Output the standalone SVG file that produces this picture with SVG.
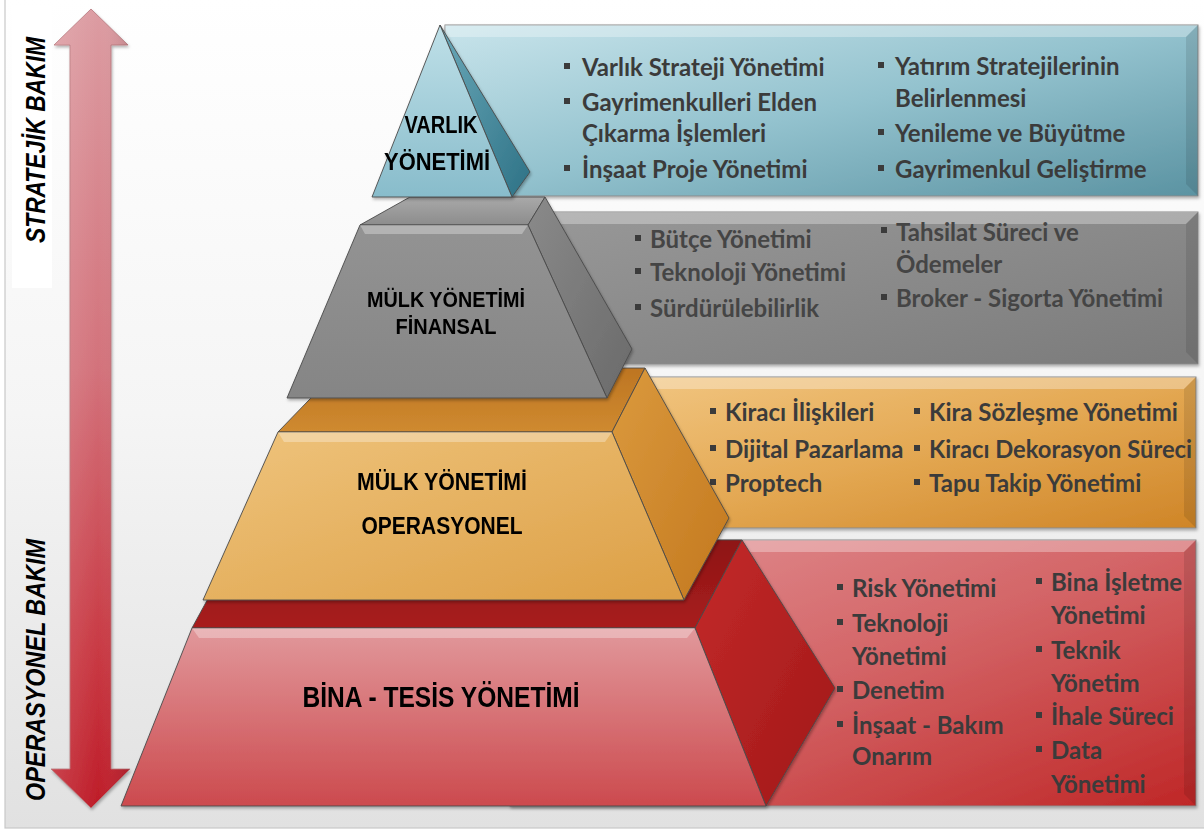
<svg xmlns="http://www.w3.org/2000/svg" width="1204" height="830" viewBox="0 0 1204 830">
<defs>
  <linearGradient id="bg" x1="0" y1="0" x2="0" y2="1">
    <stop offset="0" stop-color="#ffffff"/><stop offset="0.5" stop-color="#f5f5f5"/><stop offset="1" stop-color="#e1e1e1"/>
  </linearGradient>
  <linearGradient id="arrowG" x1="0" y1="0" x2="0" y2="1">
    <stop offset="0" stop-color="#dc9ca2"/><stop offset="0.45" stop-color="#d3727b"/><stop offset="0.8" stop-color="#c93a44"/><stop offset="1" stop-color="#be1c28"/>
  </linearGradient>
  <linearGradient id="arrowSh" x1="0" y1="0" x2="1" y2="0">
    <stop offset="0" stop-color="#ffffff" stop-opacity="0.15"/><stop offset="0.6" stop-color="#ffffff" stop-opacity="0"/><stop offset="1" stop-color="#000000" stop-opacity="0.12"/>
  </linearGradient>
  <linearGradient id="bluePanel" x1="0" y1="0" x2="1" y2="1">
    <stop offset="0" stop-color="#c8e4eb"/><stop offset="0.5" stop-color="#93c2ce"/><stop offset="1" stop-color="#5b93a2"/>
  </linearGradient>
  <linearGradient id="blueFront" x1="0" y1="0" x2="0" y2="1">
    <stop offset="0" stop-color="#bfe0e8"/><stop offset="1" stop-color="#88bccb"/>
  </linearGradient>
  <linearGradient id="blueSide" x1="0" y1="0" x2="1" y2="1">
    <stop offset="0" stop-color="#6aa8b8"/><stop offset="1" stop-color="#2e7286"/>
  </linearGradient>
  <linearGradient id="grayPanel" x1="0" y1="0" x2="1" y2="1">
    <stop offset="0" stop-color="#989898"/><stop offset="1" stop-color="#7b7b7b"/>
  </linearGradient>
  <linearGradient id="grayFront" x1="0" y1="0" x2="0" y2="1">
    <stop offset="0" stop-color="#939393"/><stop offset="1" stop-color="#858585"/>
  </linearGradient>
  <linearGradient id="grayTop" x1="0" y1="0" x2="0" y2="1">
    <stop offset="0" stop-color="#a9a9a9"/><stop offset="1" stop-color="#8c8c8c"/>
  </linearGradient>
  <linearGradient id="graySide" x1="0" y1="0" x2="1" y2="1">
    <stop offset="0" stop-color="#8a8a8a"/><stop offset="1" stop-color="#6a6a6a"/>
  </linearGradient>
  <linearGradient id="orangePanel" x1="0" y1="0" x2="1" y2="1">
    <stop offset="0" stop-color="#f2c783"/><stop offset="0.5" stop-color="#e4a954"/><stop offset="1" stop-color="#cf8527"/>
  </linearGradient>
  <linearGradient id="orangeFront" x1="0" y1="0" x2="1" y2="1">
    <stop offset="0" stop-color="#efc47d"/><stop offset="1" stop-color="#dc9f45"/>
  </linearGradient>
  <linearGradient id="orangeTop" x1="0" y1="0" x2="0" y2="1">
    <stop offset="0" stop-color="#bd7522"/><stop offset="1" stop-color="#cf8a30"/>
  </linearGradient>
  <linearGradient id="orangeSide" x1="0" y1="0" x2="1" y2="1">
    <stop offset="0" stop-color="#db9a3e"/><stop offset="1" stop-color="#c3781e"/>
  </linearGradient>
  <linearGradient id="redPanel" x1="0" y1="0" x2="1" y2="1">
    <stop offset="0" stop-color="#e29396"/><stop offset="0.5" stop-color="#d36466"/><stop offset="1" stop-color="#bf2727"/>
  </linearGradient>
  <linearGradient id="redFront" x1="0" y1="0" x2="0" y2="1">
    <stop offset="0" stop-color="#e1989b"/><stop offset="1" stop-color="#cc4a4e"/>
  </linearGradient>
  <linearGradient id="redTop" x1="0" y1="0" x2="0" y2="1">
    <stop offset="0" stop-color="#8e1515"/><stop offset="1" stop-color="#a81d1d"/>
  </linearGradient>
  <linearGradient id="redSide" x1="0" y1="0" x2="1" y2="1">
    <stop offset="0" stop-color="#c42a2a"/><stop offset="1" stop-color="#a01818"/>
  </linearGradient>
  <filter id="sh" x="-5%" y="-5%" width="110%" height="115%">
    <feDropShadow dx="1" dy="2" stdDeviation="1.5" flood-color="#000" flood-opacity="0.3"/>
  </filter>
  <rect id="bul" width="6" height="6"/>
</defs>
<style>
  .frame{fill:url(#bg);stroke:#c8c8c8;stroke-width:1.2}
  .panel{stroke:#8a8a8a;stroke-width:1;filter:url(#sh)}
  .hl{fill:#ffffff;fill-opacity:0.3}
  .dk{fill:#000000;fill-opacity:0.1}
  .face{stroke:#4a4a4a;stroke-width:0.9;stroke-linejoin:round}
  .item{font-family:Lato,"Open Sans","DejaVu Sans",sans-serif;font-weight:bold;font-size:24px;fill:#3b3b3b}
  .gitem{fill:#454545}
  .bul{fill:#3b3b3b}
  .lab{font-family:"Liberation Sans",Arial,sans-serif;font-weight:bold;fill:#000;text-anchor:middle}
  .side{font-family:"Liberation Sans",Arial,sans-serif;font-style:italic;font-weight:bold;font-size:27px;fill:#000;text-anchor:middle}
</style>

<rect class="frame" x="5" y="-1" width="1200" height="829"/>
<rect x="12" y="6" width="40" height="282" fill="#ffffff"/>

<g id="label-strategic">
  <text class="side" transform="translate(45 140) rotate(-90)" x="0" y="0" textLength="206" lengthAdjust="spacingAndGlyphs">STRATEJİK BAKIM</text>
</g>
<g id="label-operational">
  <text class="side" transform="translate(45 670) rotate(-90)" x="0" y="0" textLength="262" lengthAdjust="spacingAndGlyphs">OPERASYONEL BAKIM</text>
</g>

<g id="connectors">
  <g id="arrow-strategic-operational" filter="url(#sh)">
    <polygon points="91,9 128,45 111,45 111,769 130,769 91,808 51,769 70,769 70,45 54,45" fill="url(#arrowG)" stroke="#b5757a" stroke-width="0.8"/>
    <polygon points="91,9 128,45 111,45 111,769 130,769 91,808 51,769 70,769 70,45 54,45" fill="url(#arrowSh)"/>
  </g>
</g>

<!-- panels -->
<g id="panel-varlik">
  <rect class="panel" x="445" y="25" width="753" height="171" fill="url(#bluePanel)"/>
  <polygon class="hl" points="445,25 1198,25 1186,37 445,37"/>
  <polygon class="dk" points="1198,25 1198,196 1186,184 1186,37"/>
  <use href="#bul" class="bul" x="564" y="63"/><text class="item" x="582" y="76">Varlık Strateji Yönetimi</text>
  <use href="#bul" class="bul" x="564" y="98"/><text class="item" x="582" y="111">Gayrimenkulleri Elden</text>
  <text class="item" x="582" y="142">Çıkarma İşlemleri</text>
  <use href="#bul" class="bul" x="564" y="165"/><text class="item" x="582" y="178">İnşaat Proje Yönetimi</text>
  <use href="#bul" class="bul" x="878" y="62"/><text class="item" x="895" y="75">Yatırım Stratejilerinin</text>
  <text class="item" x="895" y="107">Belirlenmesi</text>
  <use href="#bul" class="bul" x="878" y="129"/><text class="item" x="895" y="142">Yenileme ve Büyütme</text>
  <use href="#bul" class="bul" x="878" y="165"/><text class="item" x="895" y="178">Gayrimenkul Geliştirme</text>
</g>

<g id="panel-finansal">
  <rect class="panel" x="540" y="212" width="658" height="152" fill="url(#grayPanel)"/>
  <polygon class="hl" points="540,212 1198,212 1186,224 540,224"/>
  <polygon class="dk" points="1198,212 1198,364 1186,352 1186,224"/>
  <use href="#bul" class="bul" x="635" y="235"/><text class="item gitem" x="650" y="248">Bütçe Yönetimi</text>
  <use href="#bul" class="bul" x="635" y="268"/><text class="item gitem" x="650" y="281">Teknoloji Yönetimi</text>
  <use href="#bul" class="bul" x="635" y="304"/><text class="item gitem" x="650" y="317">Sürdürülebilirlik</text>
  <use href="#bul" class="bul" x="881" y="227"/><text class="item gitem" x="896" y="241">Tahsilat Süreci ve</text>
  <text class="item gitem" x="896" y="273">Ödemeler</text>
  <use href="#bul" class="bul" x="881" y="294"/><text class="item gitem" x="896" y="307">Broker - Sigorta Yönetimi</text>
</g>

<g id="panel-operasyonel">
  <rect class="panel" x="600" y="377" width="596" height="151" fill="url(#orangePanel)"/>
  <polygon class="hl" points="600,377 1196,377 1184,389 600,389"/>
  <polygon class="dk" points="1196,377 1196,528 1184,516 1184,389"/>
  <use href="#bul" class="bul" x="710" y="408"/><text class="item" x="725" y="421">Kiracı İlişkileri</text>
  <use href="#bul" class="bul" x="710" y="445"/><text class="item" x="725" y="458">Dijital Pazarlama</text>
  <use href="#bul" class="bul" x="710" y="479"/><text class="item" x="725" y="492">Proptech</text>
  <use href="#bul" class="bul" x="914" y="408"/><text class="item" x="929" y="421">Kira Sözleşme Yönetimi</text>
  <use href="#bul" class="bul" x="914" y="445"/><text class="item" x="929" y="458" textLength="263" lengthAdjust="spacingAndGlyphs">Kiracı Dekorasyon Süreci</text>
  <use href="#bul" class="bul" x="914" y="479"/><text class="item" x="929" y="492">Tapu Takip Yönetimi</text>
</g>

<g id="panel-bina">
  <rect class="panel" x="510" y="540" width="686" height="266" fill="url(#redPanel)"/>
  <polygon class="hl" points="510,540 1196,540 1184,552 510,552"/>
  <polygon class="dk" points="1196,540 1196,806 1184,794 1184,552"/>
  <use href="#bul" class="bul" x="837" y="584"/><text class="item" x="852" y="597">Risk Yönetimi</text>
  <use href="#bul" class="bul" x="837" y="619"/><text class="item" x="852" y="632">Teknoloji</text>
  <text class="item" x="852" y="665">Yönetimi</text>
  <use href="#bul" class="bul" x="837" y="686"/><text class="item" x="852" y="699">Denetim</text>
  <use href="#bul" class="bul" x="837" y="721"/><text class="item" x="852" y="734">İnşaat - Bakım</text>
  <text class="item" x="852" y="765">Onarım</text>
  <use href="#bul" class="bul" x="1036" y="578"/><text class="item" x="1051" y="591">Bina İşletme</text>
  <text class="item" x="1051" y="624">Yönetimi</text>
  <use href="#bul" class="bul" x="1036" y="646"/><text class="item" x="1051" y="659">Teknik</text>
  <text class="item" x="1051" y="692">Yönetim</text>
  <use href="#bul" class="bul" x="1036" y="712"/><text class="item" x="1051" y="725">İhale Süreci</text>
  <use href="#bul" class="bul" x="1036" y="746"/><text class="item" x="1051" y="759">Data</text>
  <text class="item" x="1051" y="793">Yönetimi</text>
</g>

<!-- pyramid levels, bottom to top -->
<g id="pyramid-bina" filter="url(#sh)">
  <polygon class="face" points="192,628 695,628 742,540 240,540" fill="url(#redTop)"/>
  <polygon class="face" points="695,628 742,540 835,688 766,806" fill="url(#redSide)"/>
  <polygon class="face" points="192,628 695,628 766,806 121,806" fill="url(#redFront)"/>
  <polygon class="hl" points="192,628 695,628 687,638 199,638"/>
  <text class="lab" x="441" y="707" font-size="29" textLength="277" lengthAdjust="spacingAndGlyphs">BİNA - TESİS YÖNETİMİ</text>
</g>

<g id="pyramid-operasyonel" filter="url(#sh)">
  <polygon class="face" points="278,432 612,432 645,368 340,368" fill="url(#orangeTop)"/>
  <polygon class="face" points="612,432 645,368 729,518 684,600" fill="url(#orangeSide)"/>
  <polygon class="face" points="278,432 612,432 684,600 203,600" fill="url(#orangeFront)"/>
  <polygon class="hl" points="278,432 612,432 605,442 284,442"/>
  <text class="lab" x="442" y="490" font-size="24" textLength="170" lengthAdjust="spacingAndGlyphs">MÜLK YÖNETİMİ</text>
  <text class="lab" x="442" y="534" font-size="24" textLength="161" lengthAdjust="spacingAndGlyphs">OPERASYONEL</text>
</g>

<g id="pyramid-finansal" filter="url(#sh)">
  <polygon class="face" points="360,225 528,225 545,197 410,197" fill="url(#grayTop)"/>
  <polygon class="face" points="528,225 545,197 632,349 607,398" fill="url(#graySide)"/>
  <polygon class="face" points="360,225 528,225 607,398 287,398" fill="url(#grayFront)"/>
  <polygon class="hl" points="360,225 528,225 522,234 365,234"/>
  <text class="lab" x="446" y="307" font-size="22" textLength="158" lengthAdjust="spacingAndGlyphs">MÜLK YÖNETİMİ</text>
  <text class="lab" x="446" y="334" font-size="22" textLength="101" lengthAdjust="spacingAndGlyphs">FİNANSAL</text>
</g>

<g id="pyramid-varlik" filter="url(#sh)">
  <polygon class="face" points="440,25 530,172 512,197" fill="url(#blueSide)"/>
  <polygon class="face" points="440,25 512,197 372,197" fill="url(#blueFront)"/>
  <text class="lab" x="441" y="133" font-size="23" textLength="73" lengthAdjust="spacingAndGlyphs">VARLIK</text>
  <text class="lab" x="437" y="170" font-size="23" textLength="106" lengthAdjust="spacingAndGlyphs">YÖNETİMİ</text>
</g>
</svg>
